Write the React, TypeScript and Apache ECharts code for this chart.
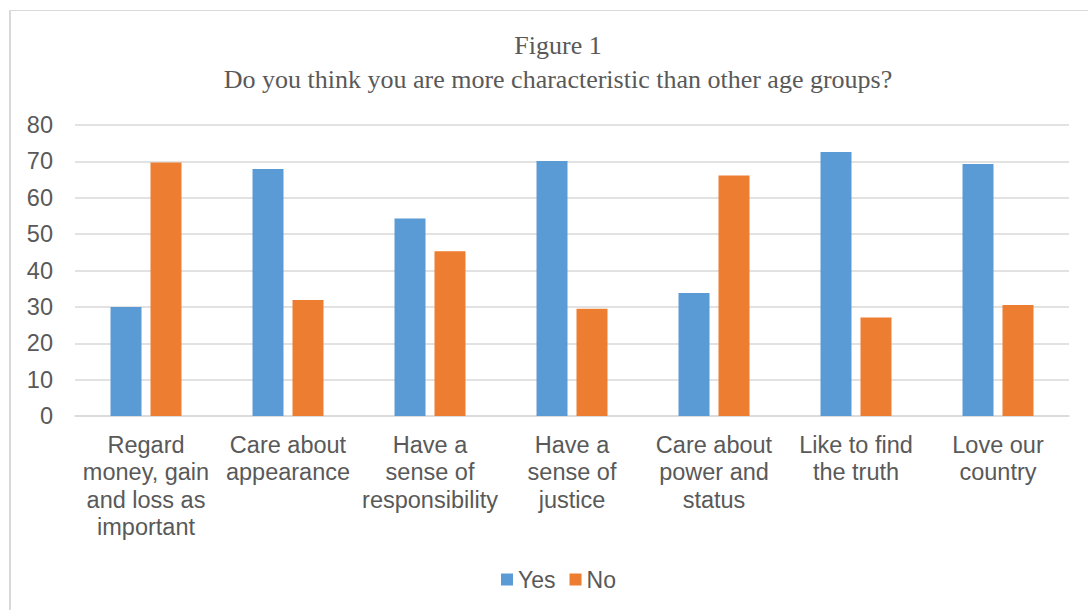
import React, { useEffect, useRef } from "react";
import * as echarts from "echarts";

const categories = [
  "Regard\nmoney, gain\nand loss as\nimportant",
  "Care about\nappearance",
  "Have a\nsense of\nresponsibility",
  "Have a\nsense of\njustice",
  "Care about\npower and\nstatus",
  "Like to find\nthe truth",
  "Love our\ncountry",
];
const yesValues = [30.0, 67.9, 54.3, 70.1, 33.8, 72.6, 69.3];
const noValues = [69.7, 31.9, 45.3, 29.5, 66.1, 27.1, 30.5];
const seriesNames = ["Yes", "No"];
const titleLines = ["Figure 1", "Do you think you are more characteristic than other age groups?"];

export default function App() {
  const ref = useRef<HTMLDivElement>(null);
  useEffect(() => {
    if (!ref.current) return;
    const chart = echarts.init(ref.current, undefined, { renderer: "svg" });
    const sans = "Liberation Sans, Arial, sans-serif";
    chart.setOption({
      animation: false,
      backgroundColor: "#ffffff",
      title: {
        text: titleLines.join("\n"),
        left: 553,
        textAlign: "center",
        top: 23,
        textStyle: {
          fontFamily: "Liberation Serif, Times New Roman, serif",
          fontSize: 26,
          fontWeight: "normal",
          color: "#595959",
          lineHeight: 34,
        },
      },
      legend: {
        data: seriesNames,
        left: 496,
        top: 563,
        icon: "rect",
        itemWidth: 12,
        itemHeight: 12,
        itemGap: 14,
        textStyle: { fontFamily: sans, fontSize: 23, color: "#595959" },
      },
      grid: { left: 75, right: 19, top: 125, bottom: 194, containLabel: false },
      xAxis: {
        type: "category",
        data: categories,
        axisLine: { show: true, lineStyle: { color: "#D9D9D9", width: 1.5 } },
        axisTick: { show: false },
        axisLabel: {
          interval: 0,
          fontFamily: sans,
          fontSize: 23.5,
          color: "#595959",
          lineHeight: 27.5,
          margin: 15,
        },
      },
      yAxis: {
        type: "value",
        min: 0,
        max: 80,
        interval: 10,
        axisLine: { show: false },
        axisTick: { show: false },
        splitLine: { lineStyle: { color: "#D9D9D9", width: 1.5 } },
        axisLabel: { fontFamily: sans, fontSize: 23.5, color: "#595959", margin: 22 },
      },
      series: [
        {
          name: seriesNames[0],
          type: "bar",
          data: yesValues,
          barWidth: 31,
          barGap: "29%",
          itemStyle: { color: "#5B9BD5" },
        },
        {
          name: seriesNames[1],
          type: "bar",
          data: noValues,
          barWidth: 31,
          itemStyle: { color: "#ED7D31" },
        },
      ],
      graphic: [
        {
          type: "line",
          shape: { x1: 9.5, y1: 10.5, x2: 1088, y2: 10.5 },
          style: { stroke: "#D9D9D9", lineWidth: 1 },
        },
        {
          type: "line",
          shape: { x1: 10, y1: 10, x2: 10, y2: 610 },
          style: { stroke: "#D9D9D9", lineWidth: 2 },
        },
      ],
    });
    return () => chart.dispose();
  }, []);
  return (
    <div
      ref={ref}
      style={{ position: "absolute", left: 0, top: 0, width: 1088, height: 610 }}
    />
  );
}
